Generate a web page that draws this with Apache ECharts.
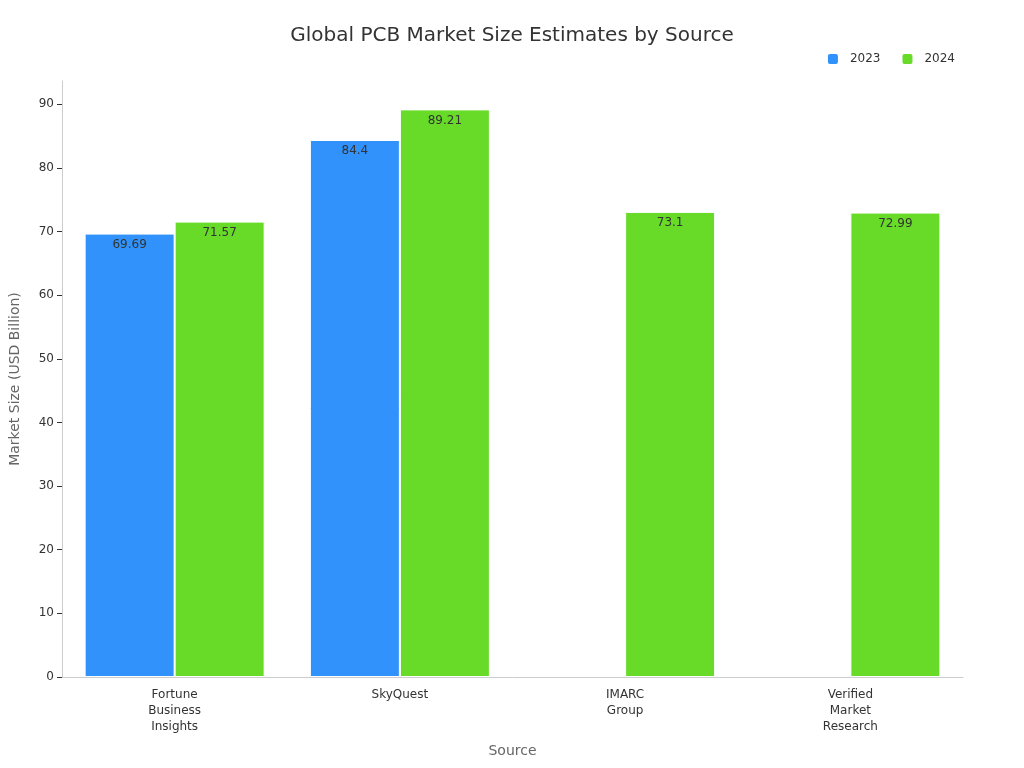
<!DOCTYPE html>
<html><head><meta charset="utf-8">
<script src="https://cdn.jsdelivr.net/npm/echarts@6/dist/echarts.min.js"></script>
<style>html,body{margin:0;padding:0}#c{width:1024px;height:768px}</style>
</head><body><div id="c"></div>
<script>
const categories = ["Fortune\nBusiness\nInsights", "SkyQuest", "IMARC\nGroup", "Verified\nMarket\nResearch"];
const values2023 = [69.69, 84.4, null, null];
const values2024 = [71.57, 89.21, 73.1, 72.99];
const yTicks = [0, 10, 20, 30, 40, 50, 60, 70, 80, 90];

const chart = echarts.init(document.getElementById('c'));
const lbl = {show: true, position: 'insideTop', color: '#333', fontSize: 12, fontFamily: 'DejaVu Sans'};
chart.setOption({
  textStyle: {fontFamily: 'DejaVu Sans'},
  title: {text: 'Global PCB Market Size Estimates by Source', left: 'center', top: 21,
    textStyle: {fontSize: 20, fontWeight: 'normal', color: '#333', fontFamily: 'DejaVu Sans'}},
  legend: {right: 64, top: 47, itemWidth: 12, itemHeight: 12, itemGap: 20,
    textStyle: {fontSize: 12, color: '#333', padding: [0, 0, 0, 6]}, data: ['2023', '2024']},
  grid: {left: 60, right: 61, top: 81, bottom: 91},
  xAxis: {type: 'category', data: categories, name: 'Source', nameLocation: 'middle', nameGap: 67,
    nameTextStyle: {fontSize: 14, color: '#666'},
    axisLine: {lineStyle: {color: '#ccc'}}, axisTick: {show: false},
    axisLabel: {color: '#333', fontSize: 12, lineHeight: 16, margin: 10}},
  yAxis: {type: 'value', min: 0, max: 93.67, interval: 10, name: 'Market Size (USD Billion)',
    nameLocation: 'middle', nameGap: 40, nameTextStyle: {fontSize: 14, color: '#666'},
    axisLine: {show: true, lineStyle: {color: '#ccc'}},
    axisTick: {show: true, customValues: yTicks, lineStyle: {color: '#333'}},
    splitLine: {show: false},
    axisLabel: {color: '#333', fontSize: 12, customValues: yTicks}},
  series: [
    {name: '2023', type: 'bar', data: values2023, barWidth: 90, barGap: '0%',
      itemStyle: {color: '#3092fa', borderColor: '#fff', borderWidth: 1}, label: lbl},
    {name: '2024', type: 'bar', data: values2024, barWidth: 90,
      itemStyle: {color: '#67db28', borderColor: '#fff', borderWidth: 1}, label: lbl}
  ]
});
</script></body></html>
